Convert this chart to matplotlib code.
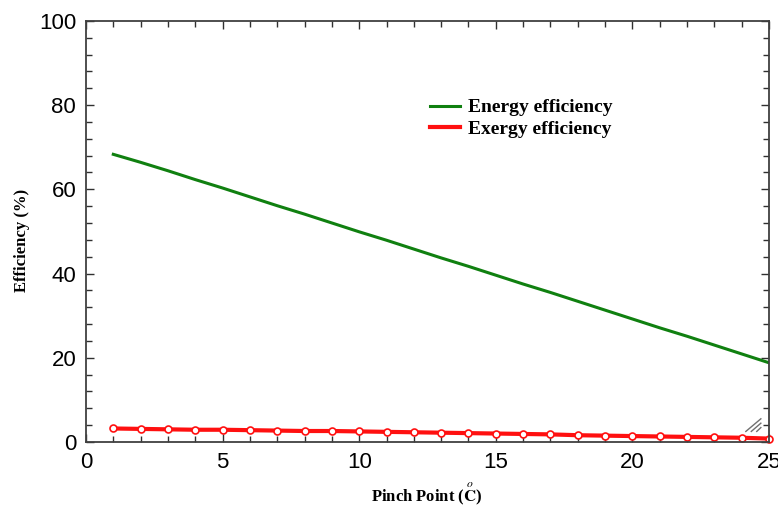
import numpy as np
import matplotlib.pyplot as plt
from matplotlib.ticker import MultipleLocator

plt.rcParams['mathtext.fontset'] = 'stix'

# data
pinch = list(range(1, 26))
energy = [68.3, 66.4, 64.4, 62.3, 60.3, 58.2, 56.1, 54.1, 52.0, 49.9,
          47.9, 45.8, 43.7, 41.7, 39.6, 37.5, 35.5, 33.4, 31.3, 29.2,
          27.1, 25.1, 23.0, 20.9, 18.8]
exergy = [3.2, 3.1, 3.0, 2.9, 2.9, 2.8, 2.7, 2.6, 2.6, 2.5,
          2.4, 2.3, 2.2, 2.1, 2.0, 1.9, 1.8, 1.6, 1.5, 1.4,
          1.3, 1.2, 1.1, 1.0, 0.8]

fig = plt.figure(figsize=(7.78, 5.08), dpi=100)
ax = fig.add_axes([0.1105, 0.13, 0.878, 0.829])

ax.plot(pinch, energy, color='#108010', lw=2.2, label='Energy efficiency')
ax.plot(pinch, exergy, color='#ff1010', lw=3, label='Exergy efficiency')
ax.plot(pinch, exergy, ls='none', marker='o', ms=5, mfc='white',
        mec='#ff1010', mew=1.2, clip_on=False)

# little resize grip in the corner
for d in (0.0, 0.008, 0.016):
    ax.plot([0.966 + d, 0.988], [0.025, 0.055 - d * 1.3], color='#707070',
            lw=1, transform=ax.transAxes)

ax.set_xlim(0, 25)
ax.set_ylim(0, 100)
ax.xaxis.set_major_locator(MultipleLocator(5))
ax.xaxis.set_minor_locator(MultipleLocator(1))
ax.yaxis.set_major_locator(MultipleLocator(20))
ax.yaxis.set_minor_locator(MultipleLocator(4))
ax.tick_params(which='both', direction='in', top=True, right=True,
               color='#303030', width=1)
ax.tick_params(which='major', length=6, labelsize=16, pad=7)
ax.tick_params(which='minor', length=4)
for lab in ax.get_xticklabels() + ax.get_yticklabels():
    lab.set_family('Liberation Sans')
for s in ax.spines.values():
    s.set_color('#404040')
    s.set_linewidth(1.3)

fig.text(427 / 778, 1 - 494 / 508, r'Pinch Point ($\overset{o}{\mathbf{C}}$)',
         family='Liberation Serif', fontweight='bold', fontsize=12,
         ha='center', va='center')
fig.text(22 / 778, 1 - 240 / 508, 'Efficiency (%)', family='Liberation Serif',
         fontweight='bold', fontsize=12, rotation=90, ha='center', va='center')

ax.legend(loc='upper left', bbox_to_anchor=(0.489, 0.838), frameon=False,
          prop={'family': 'Liberation Serif', 'weight': 'bold', 'size': 14},
          borderpad=0, handlelength=1.55, handletextpad=0.4, labelspacing=0.2)

fig.savefig('out.png', dpi=100)
